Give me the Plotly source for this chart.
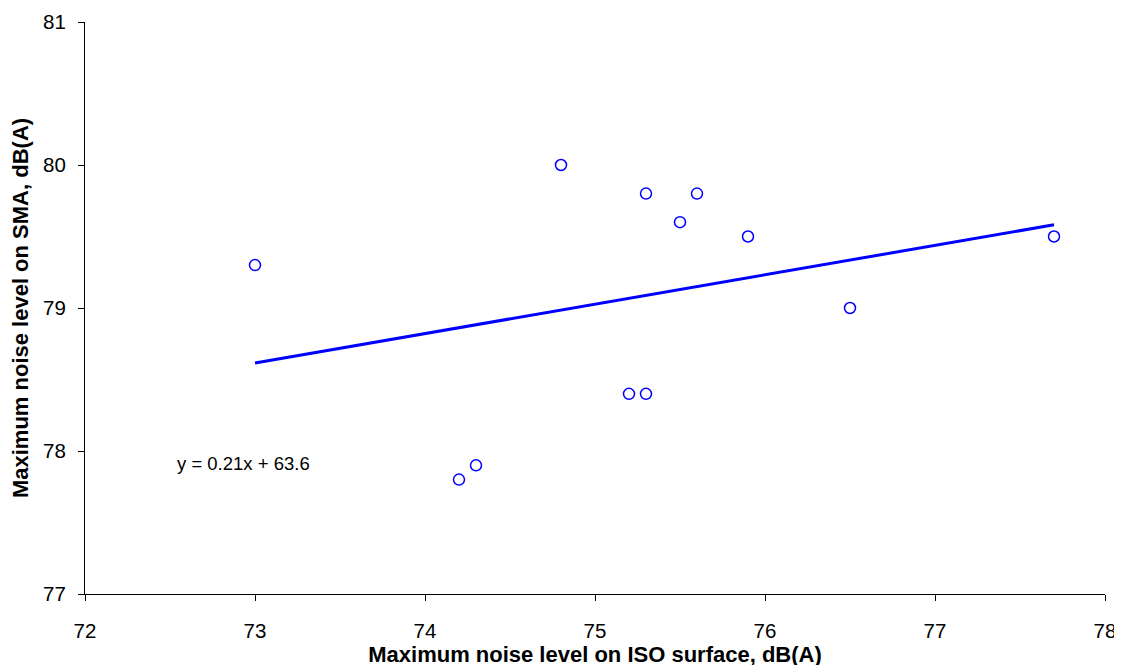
import numpy as np
import plotly.graph_objects as go

iso_x = [73.0, 74.2, 74.3, 74.8, 75.2, 75.3, 75.3, 75.5, 75.6, 75.9, 76.5, 77.7]
sma_y = [79.3, 77.8, 77.9, 80.0, 78.4, 78.4, 79.8, 79.6, 79.8, 79.5, 79.0, 79.5]
x_ticks = [72, 73, 74, 75, 76, 77, 78]
y_ticks = [77, 78, 79, 80, 81]

slope, intercept = np.polyfit(iso_x, sma_y, 1)
fit_x = [min(iso_x), max(iso_x)]
fit_y = [slope * v + intercept for v in fit_x]

FONT = "Liberation Sans, Arial, sans-serif"

fig = go.Figure()
fig.add_trace(go.Scatter(x=fit_x, y=fit_y, mode="lines",
                         line=dict(color="#0000FF", width=3), showlegend=False))
fig.add_trace(go.Scatter(x=iso_x, y=sma_y, mode="markers",
                         marker=dict(symbol="circle-open", size=11, color="#0000FF",
                                     line=dict(width=1.5, color="#0000FF")),
                         showlegend=False))

fig.add_annotation(x=72.53, y=77.91, text=f"y = {slope:.2f}x + {intercept:.1f}",
                   showarrow=False, xanchor="left", yanchor="middle",
                   font=dict(family=FONT, size=18.5, color="black"))

axis_common = dict(showgrid=False, zeroline=False, showline=True, linecolor="black",
                   linewidth=1, ticks="outside", ticklen=6, tickcolor="black",
                   automargin=False,
                   tickfont=dict(family=FONT, size=20.5, color="black"))

fig.update_xaxes(range=[72, 78], tickvals=x_ticks, ticklabelstandoff=12, **axis_common,
                 title=dict(text="<b>Maximum noise level on ISO surface, dB(A)</b>",
                            font=dict(family=FONT, size=22, color="black"), standoff=4))
fig.update_yaxes(range=[77, 81], tickvals=y_ticks, ticklabelstandoff=8, **axis_common,
                 title=dict(text="<b>Maximum noise level on SMA, dB(A)</b>",
                            font=dict(family=FONT, size=22, color="black"), standoff=13))

fig.update_layout(width=1122, height=665, plot_bgcolor="white", paper_bgcolor="white",
                  margin=dict(l=77, r=25, t=14, b=79), font=dict(family=FONT))

fig.write_html("out.html")
